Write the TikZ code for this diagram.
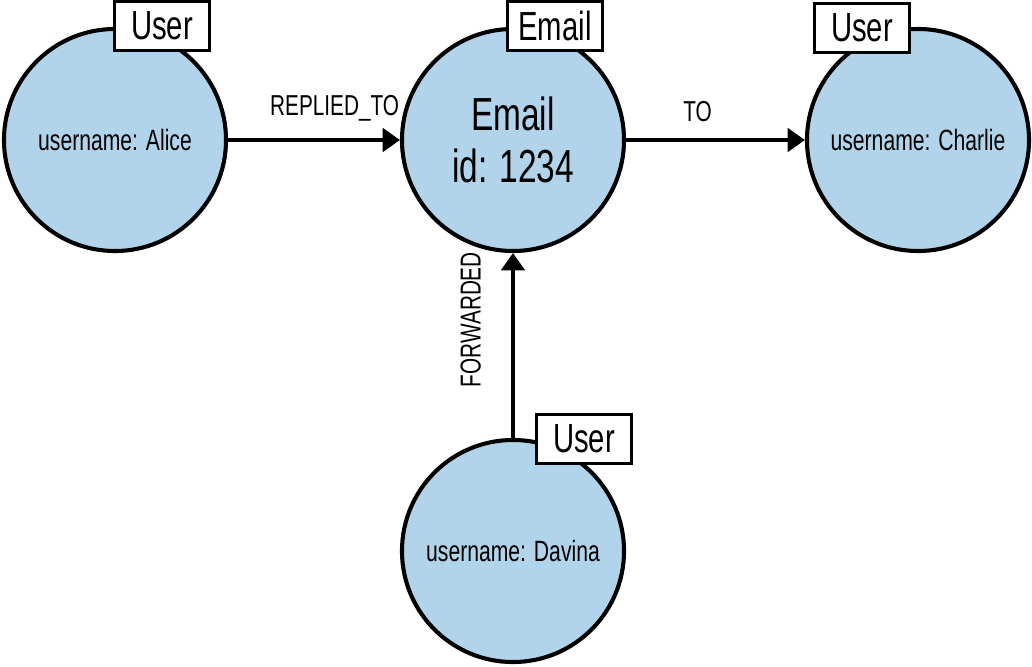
\documentclass[tikz,border=0pt]{standalone}
\usepackage{fontspec}
\setmainfont{Liberation Sans}[FakeStretch=0.72]
\usetikzlibrary{arrows.meta, positioning}
\definecolor{cnode}{HTML}{B2D4EA}
\tikzset{
  every picture/.style={line width=2.9pt},
  entity/.style={circle, draw=black, fill=cnode, minimum size=5.55cm, inner sep=0pt, align=center, font=\fontsize{20.9}{24}\selectfont},
  tag/.style={draw=black, fill=white, line width=2.4pt, minimum width=2.37cm, minimum height=1.22cm, inner sep=0pt, font=\fontsize{28.9}{30}\selectfont},
  rel/.style={-{Triangle[length=0.43cm, width=0.58cm]}, draw=black, line width=2.9pt},
  rellabel/.style={font=\fontsize{20.5}{22}\selectfont, inner sep=0pt},
}

\begin{document}
\begin{tikzpicture}[x=0.025cm, y=-0.025cm]
  \useasboundingbox (0,0) rectangle (1032,666);
  % nodes
  \node[entity] (alice) at (115, 140) {username: Alice};
  \node[entity, font=\fontsize{33}{36.5}\selectfont] (email) at (513, 140) {Email\\id: 1234};
  \node[entity] (charlie) at (918, 140) {username: Charlie};
  \node[entity] (davina) at (513, 551) {username: Davina};
  % labels
  \node[tag] (aliceTag) at (162, 26) {User};
  \node[tag] (emailTag) at (555, 26) {Email};
  \node[tag] (charlieTag) at (862, 28) {User};
  \node[tag] (davinaTag) at (584, 439) {User};
  % relationships
  \draw[rel] (alice.east) -- node[rellabel, pos=0.62, above=0.42cm] {REPLIED\_TO} (email.west);
  \draw[rel] (email.east) -- node[rellabel, pos=0.4, above=0.4cm] {TO} (charlie.west);
  \draw[rel] (davina.north) -- node[rellabel, pos=0.64, rotate=90, anchor=south, yshift=0.75cm] {FORWARDED} (email.south);
\end{tikzpicture}
\end{document}
